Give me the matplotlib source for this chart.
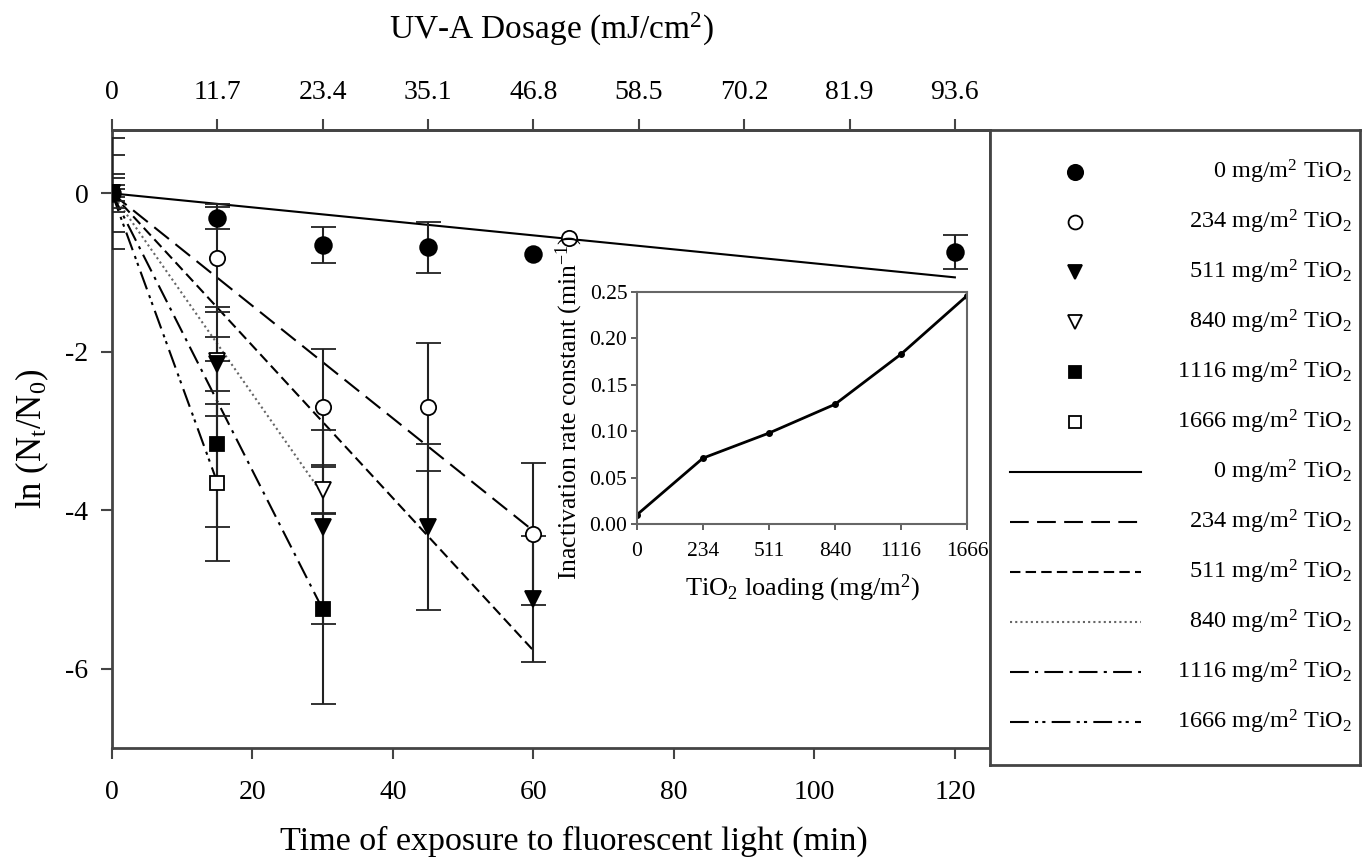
import numpy as np
import matplotlib
matplotlib.use("Agg")
import matplotlib.pyplot as plt

plt.rcParams['font.family'] = ['Liberation Serif', 'DejaVu Serif']
plt.rcParams['mathtext.fontset'] = 'custom'
plt.rcParams['mathtext.rm'] = 'Liberation Serif'
plt.rcParams['mathtext.it'] = 'Liberation Serif:italic'
plt.rcParams['axes.unicode_minus'] = False

# ---------------- data ----------------
loadings = ['0', '234', '511', '840', '1116', '1666']

# time points (min), ln(Nt/N0) and error bars for each TiO2 loading
t_0 = [0, 15, 30, 45, 60, 120]
y_0 = [0, -0.31, -0.65, -0.68, -0.77, -0.74]
e_0 = [0.19, 0.14, 0.23, 0.32, np.nan, 0.22]

t_234 = [0, 15, 30, 45, 60, 65]
y_234 = [0, -0.82, -2.70, -2.70, -4.30, -0.56]
e_234 = [0.24, 0.68, 0.73, 0.81, 0.90, np.nan]

t_511 = [0, 15, 30, 45, 60]
y_511 = [0, -2.15, -4.21, -4.21, -5.12]
e_511 = [0.49, 0.34, 1.22, 1.05, 0.79]

t_840 = [0, 15, 30]
y_840 = [0, -2.12, -3.74]
e_840 = [0.70, 0.69, 0.29]

t_1116 = [0, 15, 30]
y_1116 = [0, -3.16, -5.25]
e_1116 = [0.10, 1.05, 1.20]

t_1666 = [0, 15]
y_1666 = [0, -3.65]
e_1666 = [0.05, 0.99]

# fitted first-order lines (start at origin, end point)
fit_end_t = [120, 60, 60, 30, 30, 15]
fit_end_y = [-1.06, -4.26, -5.77, -3.80, -5.25, -3.65]

# inset: inactivation rate constant vs loading
rate_k = [0.010, 0.071, 0.098, 0.129, 0.183, 0.246]

# top axis: UV-A dosage at the exposure times
dose_t = [0, 15, 30, 45, 60, 75, 90, 105, 120]
dose_labels = ['0', '11.7', '23.4', '35.1', '46.8', '58.5', '70.2', '81.9', '93.6']

# ---------------- styles ----------------
markers = ['o', 'o', 'v', 'v', 's', 's']
filled = [True, False, True, False, True, False]
msizes = [12, 11, 11, 11, 10, 10]
dash_styles = [None, (9, 4), (5, 2.5), (1, 1.5), (9, 3, 1.5, 3), (9, 3, 1.5, 2, 1.5, 3)]
line_colors = ['black', 'black', 'black', '#666666', 'black', 'black']

series = [(t_0, y_0, e_0), (t_234, y_234, e_234), (t_511, y_511, e_511),
          (t_840, y_840, e_840), (t_1116, y_1116, e_1116), (t_1666, y_1666, e_1666)]

W, H = 1362, 859
fig = plt.figure(figsize=(W / 100, H / 100), dpi=100)
ax = fig.add_axes([112 / W, 1 - 748 / H, (990 - 112) / W, (748 - 130) / H])

# fitted lines
for i in range(6):
    ln, = ax.plot([0, fit_end_t[i]], [0, fit_end_y[i]], color=line_colors[i], lw=1.5, zorder=2)
    if dash_styles[i] is not None:
        ln.set_dashes(dash_styles[i])

# data with error bars (0 mg/m2 drawn last so it sits on top)
for i in reversed(range(6)):
    t, y, e = series[i]
    ax.errorbar(t, y, yerr=e, fmt=markers[i], ms=msizes[i],
                mfc='black' if filled[i] else 'white', mec='black', mew=1.3,
                ecolor='#222222', elinewidth=1.5, capsize=9, capthick=1.5, zorder=3)

ax.set_xlim(0, 125)
ax.set_ylim(-7, 0.8)
ax.set_xticks([0, 20, 40, 60, 80, 100, 120])
ax.set_yticks([0, -2, -4, -6])
ax.tick_params(axis='x', pad=15)
ax.tick_params(direction='out', length=8, width=1.5, labelsize=20, color='#444444')
ax.tick_params(axis='y', pad=9)
for s in ax.spines.values():
    s.set_linewidth(2)
    s.set_color('#444444')
ax.set_xlabel('Time of exposure to fluorescent light (min)', fontsize=24.5, labelpad=15)
ax.xaxis.label.set_x(0.526)
ax.set_ylabel(r'ln (N$_\mathrm{t}$/N$_\mathrm{0}$)', fontsize=25, labelpad=10)

top = ax.secondary_xaxis('top')
top.set_xticks(dose_t, labels=dose_labels)
top.tick_params(direction='out', length=8, width=1.5, labelsize=20, pad=10, color='#444444')
top.spines['top'].set_linewidth(2)
top.spines['top'].set_color('#444444')
top.set_xlabel(r'UV-A Dosage (mJ/cm$^2$)', fontsize=24, labelpad=30)

# inset
ins = fig.add_axes([637 / W, 1 - 524 / H, (967 - 637) / W, (524 - 292) / H])
xpos = np.arange(len(loadings))
ins.plot(xpos, rate_k, color='black', lw=2, marker='o', ms=4)
ins.set_xlim(0, 5)
ins.set_ylim(0, 0.25)
ins.set_xticks(xpos, labels=loadings)
ins.set_yticks([0, 0.05, 0.10, 0.15, 0.20, 0.25], labels=['0.00', '0.05', '0.10', '0.15', '0.20', '0.25'])
ins.tick_params(direction='out', length=4, width=1.2, labelsize=15.5, color='#444444')
ins.tick_params(axis='x', pad=9)
ins.tick_params(axis='y', pad=3)
for s in ins.spines.values():
    s.set_linewidth(1.5)
    s.set_color('#666666')
ins.set_xlabel(r'TiO$_2$ loading (mg/m$^2$)', fontsize=19, labelpad=8)
ins.set_ylabel(r'Inactivation rate constant (min$^{-1}$)', fontsize=18.5, labelpad=3)

# legend box (drawn by hand so labels can be right aligned)
lax = fig.add_axes([990 / W, 1 - 765 / H, (1360 - 990) / W, (765 - 130) / H])
lax.set_xlim(0, 370)
lax.set_ylim(635, 0)
lax.set_xticks([])
lax.set_yticks([])
for s in lax.spines.values():
    s.set_linewidth(2)
    s.set_color('#444444')
for j in range(12):
    i = j % 6
    ry = 42 + 50 * j
    if j < 6:
        lax.plot(85, ry, marker=markers[i], ms=msizes[i] - 1,
                 mfc='black' if filled[i] else 'white', mec='black', mew=1.3)
    else:
        ln, = lax.plot([20, 151], [ry, ry], color=line_colors[i], lw=1.5)
        if dash_styles[i] is not None:
            ln.set_dashes(dash_styles[i])
    lax.text(362, ry, loadings[i] + r' mg/m$^2$ TiO$_2$', ha='right', va='center', fontsize=17.5)

fig.savefig('out.png', dpi=100)
